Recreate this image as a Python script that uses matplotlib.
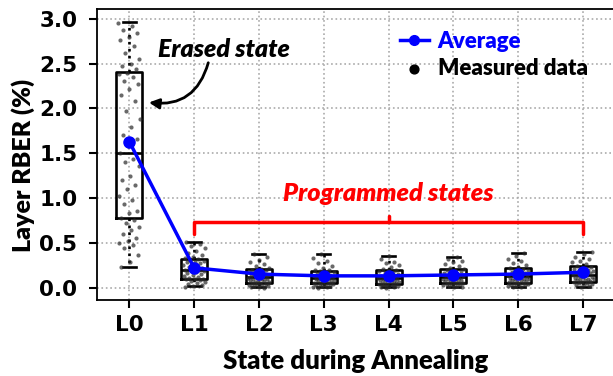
import matplotlib
matplotlib.use("Agg")
import matplotlib.pyplot as plt
import numpy as np

states = ["L0", "L1", "L2", "L3", "L4", "L5", "L6", "L7"]
average = [1.63, 0.22, 0.15, 0.13, 0.13, 0.14, 0.15, 0.17]
q1 = [0.78, 0.09, 0.05, 0.045, 0.04, 0.045, 0.05, 0.06]
median = [1.50, 0.20, 0.12, 0.11, 0.11, 0.12, 0.13, 0.14]
q3 = [2.41, 0.32, 0.21, 0.18, 0.20, 0.21, 0.22, 0.24]
whisker_low = [0.23, 0.015, 0.01, 0.01, 0.01, 0.01, 0.01, 0.01]
whisker_high = [2.96, 0.51, 0.375, 0.375, 0.35, 0.34, 0.38, 0.40]

data_L0 = [2.95, 2.92, 2.88, 2.84, 2.80, 2.76, 2.70, 2.62, 2.55, 2.50, 2.47, 2.44,
           2.40, 2.38, 2.35, 2.31, 2.27, 2.22, 2.15, 2.08, 1.97, 1.88, 1.79, 1.70,
           1.66, 1.58, 1.50, 1.44, 1.40, 1.36, 1.25, 1.20, 1.15, 1.10, 1.02, 0.98,
           0.93, 0.86, 0.83, 0.78, 0.75, 0.72, 0.68, 0.64, 0.60, 0.55, 0.52, 0.50,
           0.47, 0.44, 0.36, 0.28, 0.23]
data_L1 = [0.51, 0.49, 0.46, 0.44, 0.41, 0.38, 0.36, 0.34, 0.33, 0.32, 0.31, 0.30,
           0.29, 0.28, 0.27, 0.26, 0.25, 0.24, 0.23, 0.22, 0.21, 0.20, 0.20, 0.19,
           0.18, 0.17, 0.16, 0.15, 0.14, 0.13, 0.12, 0.11, 0.10, 0.09, 0.09, 0.08,
           0.07, 0.06, 0.05, 0.04, 0.03, 0.02, 0.01]
data_L2 = [0.37, 0.34, 0.31, 0.28, 0.26, 0.24, 0.22, 0.21, 0.20, 0.19, 0.18, 0.17,
           0.16, 0.15, 0.14, 0.13, 0.13, 0.12, 0.12, 0.11, 0.10, 0.10, 0.09, 0.08,
           0.08, 0.07, 0.06, 0.06, 0.05, 0.05, 0.04, 0.04, 0.03, 0.03, 0.02, 0.02,
           0.01, 0.01, 0.00]
data_L3 = [0.37, 0.33, 0.30, 0.27, 0.24, 0.22, 0.20, 0.19, 0.18, 0.17, 0.16, 0.15,
           0.14, 0.14, 0.13, 0.12, 0.12, 0.11, 0.11, 0.10, 0.09, 0.09, 0.08, 0.08,
           0.07, 0.06, 0.06, 0.05, 0.05, 0.04, 0.04, 0.03, 0.03, 0.02, 0.02, 0.01,
           0.01, 0.00]
data_L4 = [0.35, 0.32, 0.29, 0.27, 0.25, 0.23, 0.21, 0.20, 0.19, 0.18, 0.17, 0.16,
           0.15, 0.14, 0.13, 0.12, 0.12, 0.11, 0.10, 0.10, 0.09, 0.09, 0.08, 0.07,
           0.07, 0.06, 0.06, 0.05, 0.05, 0.04, 0.04, 0.03, 0.03, 0.02, 0.02, 0.01,
           0.01, 0.00]
data_L5 = [0.34, 0.32, 0.30, 0.28, 0.26, 0.24, 0.22, 0.21, 0.20, 0.19, 0.18, 0.17,
           0.16, 0.15, 0.14, 0.13, 0.13, 0.12, 0.11, 0.11, 0.10, 0.09, 0.09, 0.08,
           0.07, 0.07, 0.06, 0.06, 0.05, 0.05, 0.04, 0.04, 0.03, 0.03, 0.02, 0.02,
           0.01, 0.01]
data_L6 = [0.38, 0.35, 0.32, 0.30, 0.27, 0.25, 0.23, 0.22, 0.21, 0.20, 0.19, 0.18,
           0.17, 0.16, 0.15, 0.14, 0.14, 0.13, 0.12, 0.12, 0.11, 0.10, 0.10, 0.09,
           0.08, 0.08, 0.07, 0.06, 0.06, 0.05, 0.05, 0.04, 0.04, 0.03, 0.03, 0.02,
           0.02, 0.01, 0.01]
data_L7 = [0.40, 0.37, 0.34, 0.32, 0.30, 0.28, 0.26, 0.24, 0.23, 0.22, 0.21, 0.20,
           0.19, 0.18, 0.17, 0.16, 0.16, 0.15, 0.14, 0.14, 0.13, 0.12, 0.12, 0.11,
           0.10, 0.10, 0.09, 0.08, 0.08, 0.07, 0.06, 0.06, 0.05, 0.05, 0.04, 0.03,
           0.03, 0.02, 0.01]
measured = [data_L0, data_L1, data_L2, data_L3, data_L4, data_L5, data_L6, data_L7]

LABEL_FONT = ["Lato", "DejaVu Sans"]
LW = "heavy"

fig = plt.figure(figsize=(6.13, 3.76), dpi=100)
ax = fig.add_axes([0.158, 0.202, 0.846, 0.774])

x = np.arange(len(states))

stats = []
for i in range(len(states)):
    stats.append(dict(q1=q1[i], med=median[i], q3=q3[i], whislo=whisker_low[i],
                      whishi=whisker_high[i], mean=average[i], fliers=[], label=states[i]))
ax.bxp(stats, positions=x, widths=0.4, showmeans=False, showfliers=False,
       boxprops=dict(color="black", linewidth=1.9),
       medianprops=dict(color="black", linewidth=1.9),
       whiskerprops=dict(color="black", linewidth=1.9, linestyle=":"),
       capprops=dict(color="black", linewidth=1.9), zorder=2)

golden = 0.6180339887
for i, vals in enumerate(measured):
    n = len(vals)
    offs = np.array([((k * golden + 0.13 * i) % 1.0) - 0.5 for k in range(n)]) * 0.34
    ax.scatter(x[i] + offs, vals, s=9, color="#2a2a2a", alpha=0.7, linewidths=0, zorder=3)

ax.plot(x, average, color="blue", lw=2.5, marker="o", markersize=8, zorder=4)

# legend handles
h_avg, = ax.plot([], [], color="blue", lw=2.5, marker="o", markersize=7)
h_meas = ax.scatter([], [], s=40, color="black")
leg = ax.legend([h_avg, h_meas], ["Average", "Measured data"], loc="upper right",
                bbox_to_anchor=(0.972, 0.972), frameon=False, handlelength=1.3,
                handletextpad=0.4, borderaxespad=0.2, labelspacing=0.28,
                prop=dict(family=LABEL_FONT, weight=LW, size=16))
leg.get_texts()[0].set_color("blue")
leg.get_texts()[1].set_color("black")

# annotations
ax.annotate("", xy=(0.26, 2.07), xytext=(1.23, 2.54),
            arrowprops=dict(arrowstyle="-|>,head_length=0.6,head_width=0.3", color="black",
                            lw=2, connectionstyle="arc3,rad=-0.45"), zorder=5)
ax.text(1.46, 2.66, "Erased state", ha="center", va="center", fontsize=18,
        fontweight=LW, fontstyle="italic", family=LABEL_FONT, color="black")

ax.plot([1, 1, 7, 7], [0.60, 0.73, 0.73, 0.60], color="red", lw=2.5,
        solid_joinstyle="round", solid_capstyle="round", zorder=5)
ax.plot([4, 4], [0.73, 0.80], color="red", lw=2.5, solid_capstyle="round", zorder=5)
ax.text(4, 1.05, "Programmed states", ha="center", va="center", fontsize=18.2,
        fontweight=LW, fontstyle="italic", family=LABEL_FONT, color="red")

ax.set_xlim(-0.5, 7.5)
ax.set_ylim(-0.14, 3.11)
ax.set_xticks(x)
ax.set_xticklabels(states)
ax.set_yticks([0.0, 0.5, 1.0, 1.5, 2.0, 2.5, 3.0])
ax.set_yticklabels(["0.0", "0.5", "1.0", "1.5", "2.0", "2.5", "3.0"])
ax.tick_params(axis="both", labelsize=15.5, width=1.5, length=6)
ax.tick_params(axis="y", pad=8)
ax.tick_params(axis="x", pad=5)
for lab in ax.get_xticklabels() + ax.get_yticklabels():
    lab.set_fontweight("bold")
ax.grid(True, linestyle=":", color="#aaaaaa", linewidth=1.2)
ax.set_axisbelow(True)
for s in ax.spines.values():
    s.set_linewidth(1.3)

ax.set_xlabel("State during Annealing", fontsize=18.5, fontweight=LW, family=LABEL_FONT,
              labelpad=10)
ax.set_ylabel("Layer RBER (%)", fontsize=18, fontweight=LW, family=LABEL_FONT,
              labelpad=3)
ax.yaxis.label.set_y(0.464)

fig.savefig("out.png", dpi=100)
